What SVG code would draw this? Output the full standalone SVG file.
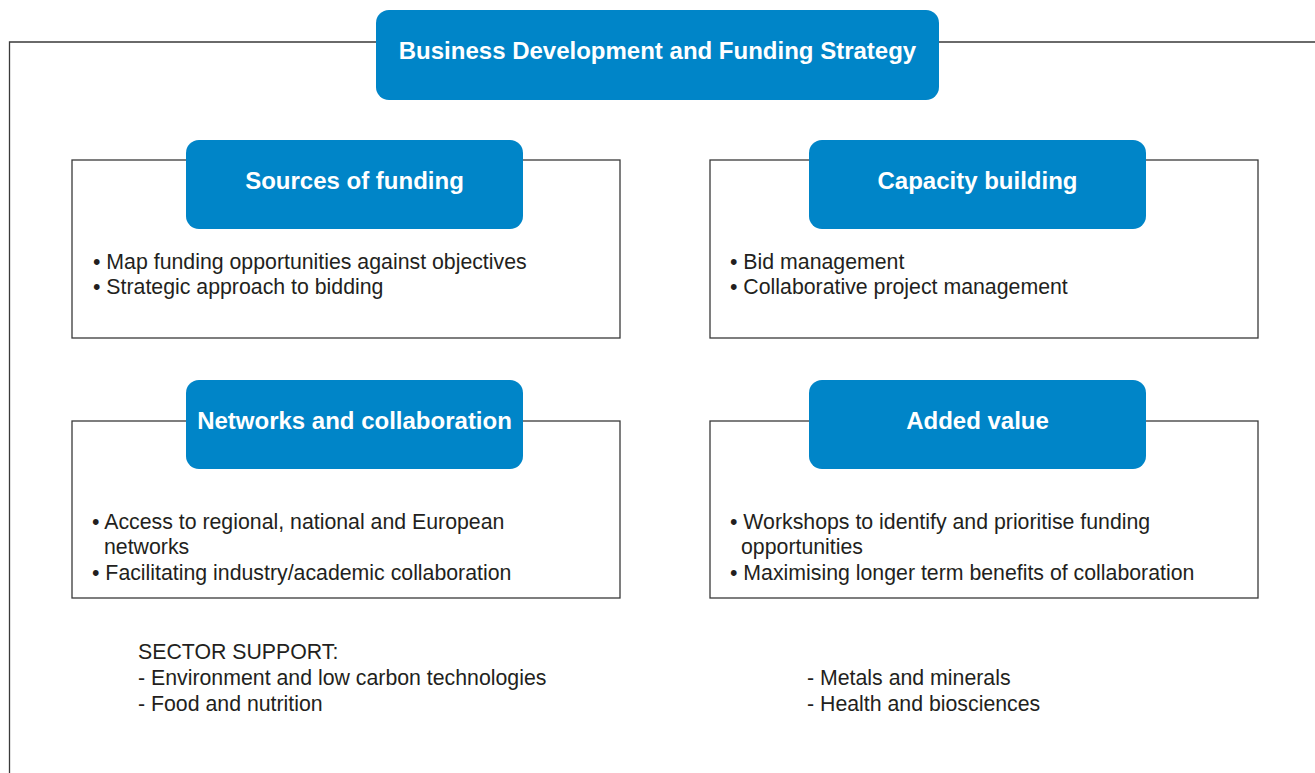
<svg xmlns="http://www.w3.org/2000/svg" width="1315" height="773" viewBox="0 0 1315 773">
<style>
.frame{fill:none;stroke:#3a3a3a;stroke-width:1.3}
.box{fill:#fff;stroke:#3a3a3a;stroke-width:1.3}
.tab{fill:#0085c8}
.title{font-family:"Liberation Sans",Arial,sans-serif;font-weight:bold;font-size:24px;fill:#fff;text-anchor:middle}
.body{font-family:"Liberation Sans",Arial,sans-serif;font-size:21.3px;fill:#231f20}
</style>
<rect width="1315" height="773" fill="#fff"/>
<g id="connectors">
<path class="frame" d="M1315,42 H9.5 V773"/>
</g>
<g id="main">
<rect class="tab" x="376" y="10" width="563" height="90" rx="13"/>
<text class="title" x="657.5" y="59">Business Development and Funding Strategy</text>
</g>
<g id="sources">
<rect class="box" x="72" y="160" width="548" height="178"/>
<rect class="tab" x="186" y="140" width="337" height="89" rx="13"/>
<text class="title" x="354.5" y="189">Sources of funding</text>
<text class="body" x="93" y="269">• Map funding opportunities against objectives</text>
<text class="body" x="93" y="294">• Strategic approach to bidding</text>
</g>
<g id="capacity">
<rect class="box" x="710" y="160" width="548" height="178"/>
<rect class="tab" x="809" y="140" width="337" height="89" rx="13"/>
<text class="title" x="977.5" y="189">Capacity building</text>
<text class="body" x="730" y="269">• Bid management</text>
<text class="body" x="730" y="294">• Collaborative project management</text>
</g>
<g id="networks">
<rect class="box" x="72" y="421" width="548" height="177"/>
<rect class="tab" x="186" y="380" width="337" height="89" rx="13"/>
<text class="title" x="354.5" y="429">Networks and collaboration</text>
<text class="body" x="92" y="529">• Access to regional, national and European</text>
<text class="body" x="104" y="554">networks</text>
<text class="body" x="92" y="580">• Facilitating industry/academic collaboration</text>
</g>
<g id="added">
<rect class="box" x="710" y="421" width="548" height="177"/>
<rect class="tab" x="809" y="380" width="337" height="89" rx="13"/>
<text class="title" x="977.5" y="429">Added value</text>
<text class="body" x="730" y="529">• Workshops to identify and prioritise funding</text>
<text class="body" x="741" y="554">opportunities</text>
<text class="body" x="730" y="580">• Maximising longer term benefits of collaboration</text>
</g>
<g id="sector">
<text class="body" x="138" y="659">SECTOR SUPPORT:</text>
<text class="body" x="138" y="685">- Environment and low carbon technologies</text>
<text class="body" x="138" y="711">- Food and nutrition</text>
<text class="body" x="807" y="685">- Metals and minerals</text>
<text class="body" x="807" y="711">- Health and biosciences</text>
</g>
</svg>
